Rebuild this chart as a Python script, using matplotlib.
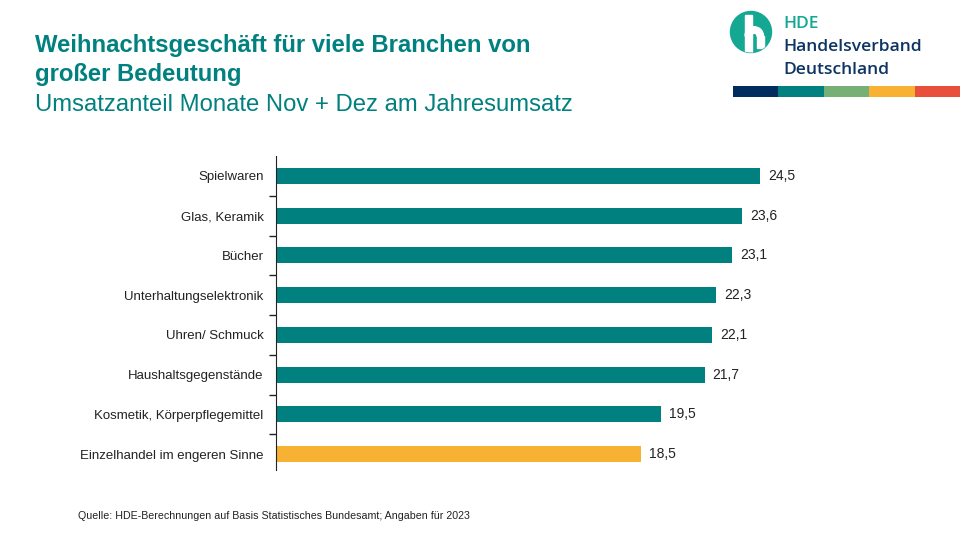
import matplotlib
matplotlib.use("Agg")
import matplotlib.pyplot as plt
from matplotlib.patches import Circle, Rectangle, Wedge

plt.rcParams["font.family"] = ["Liberation Sans", "DejaVu Sans"]

# data
categories = ["Spielwaren", "Glas, Keramik", "Bücher", "Unterhaltungselektronik",
              "Uhren/ Schmuck", "Haushaltsgegenstände", "Kosmetik, Körperpflegemittel",
              "Einzelhandel im engeren Sinne"]
values = [24.5, 23.6, 23.1, 22.3, 22.1, 21.7, 19.5, 18.5]
highlight = "Einzelhandel im engeren Sinne"

TEAL = "#00807F"
ORANGE = "#F7B133"
NAVY = "#17365D"

W, H = 960, 540
fig = plt.figure(figsize=(9.6, 5.4), dpi=100)

# main bar axes (pixel layout: spine at x=276, rows from y=156 to 474)
ax = fig.add_axes([276 / W, 1 - 474 / H, 30 * 19.75 / W, 318 / H])
ypos = list(range(len(categories)))
colors = [ORANGE if c == highlight else TEAL for c in categories]
ax.barh(ypos, values, height=0.4, color=colors, zorder=2)
ax.set_xlim(0, 30)
ax.set_ylim(len(categories) - 0.5, -0.5)
ax.set_yticks(ypos)
ax.set_yticklabels(categories, fontsize=9.5, color="#222222")
ax.set_yticks([i + 0.5 for i in range(len(categories) - 1)], minor=True)
ax.tick_params(axis="y", which="major", length=0, pad=9)
ax.tick_params(axis="y", which="minor", length=5, width=1, color="#222222", direction="out")
ax.set_xticks([])
for s in ["top", "right", "bottom"]:
    ax.spines[s].set_visible(False)
ax.spines["left"].set_color("#222222")
ax.spines["left"].set_bounds(-0.5, len(categories) - 0.6)
for y, v in zip(ypos, values):
    ax.text(v + 0.4, y, f"{v:.1f}".replace(".", ","), va="center", ha="left",
            fontsize=10, color="#222222")

# overlay in pixel coordinates for titles and logo
ov = fig.add_axes([0, 0, 1, 1], zorder=-1)
ov.set_xlim(0, W)
ov.set_ylim(H, 0)
ov.axis("off")

ov.text(35, 52, "Weihnachtsgeschäft für viele Branchen von", fontsize=17.2,
        fontweight="bold", color=TEAL, va="baseline")
ov.text(35, 81, "großer Bedeutung", fontsize=17.2, fontweight="bold",
        color=TEAL, va="baseline")
ov.text(35, 111, "Umsatzanteil Monate Nov + Dez am Jahresumsatz", fontsize=17.2,
        color=TEAL, va="baseline")

ov.text(793, 368, "in %", fontsize=12, color=NAVY, va="center", ha="left")
ov.text(78, 516, "Quelle: HDE-Berechnungen auf Basis Statistisches Bundesamt; Angaben für 2023",
        fontsize=7.7, color="#222222", va="center", ha="left")

# logo
LOGO = "#14A892"
circ = Circle((751, 32), 20.5, color=LOGO)
ov.add_patch(circ)
stem = Rectangle((745, 15), 6.5, 45, color="white")
arch = Wedge((754.25, 36), 9.25, 180, 360, width=6.5, color="white")
leg = Rectangle((757, 35.5), 6.5, 12.5, color="white")
for p in (stem, arch, leg):
    p.set_clip_path(circ)
    ov.add_patch(p)
logo_font = ["Open Sans", "Liberation Sans"]
ov.text(783, 28, "HDE", fontsize=12.5, color=LOGO, va="baseline",
        family=logo_font, fontweight="semibold")
ov.text(783, 51, "Handelsverband", fontsize=12.6, color="#0D3463", va="baseline",
        family=logo_font, fontweight="semibold")
ov.text(783, 74, "Deutschland", fontsize=12.6, color="#0D3463", va="baseline",
        family=logo_font, fontweight="semibold")

strip = ["#002D5E", "#00807F", "#77B077", "#F8B133", "#E9503B"]
x0, seg = 733, (960 - 733) / 5
for i, c in enumerate(strip):
    ov.add_patch(Rectangle((x0 + i * seg, 86), seg, 11, color=c, lw=0))

fig.savefig("out.png", dpi=100, facecolor="white")
